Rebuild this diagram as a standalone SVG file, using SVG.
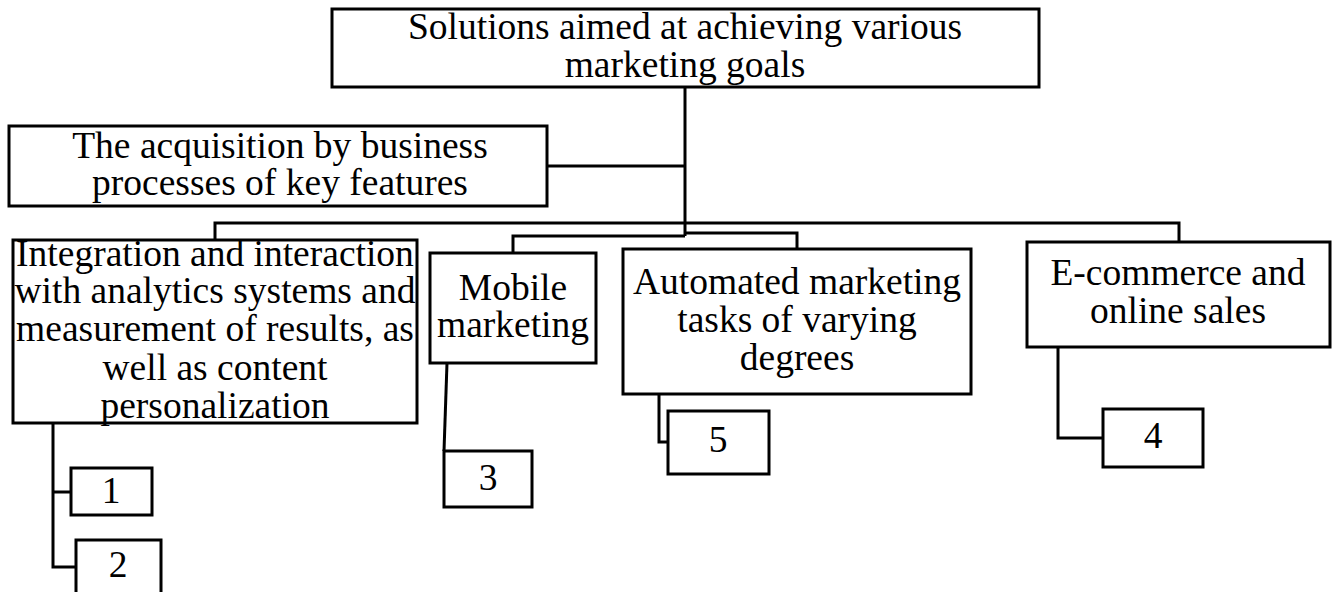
<svg xmlns="http://www.w3.org/2000/svg" width="1336" height="592" viewBox="0 0 1336 592">
<style>
.box{fill:#fff;stroke:#000;stroke-width:3}
.ln{fill:none;stroke:#000;stroke-width:3}
text{font-family:"Liberation Serif","Times New Roman",serif;font-size:37.5px;fill:#000;text-anchor:middle}
</style>
<rect width="1336" height="592" fill="#fff"/>
<g id="connectors">
<polyline class="ln" points="685,87 685,236"/>
<polyline class="ln" points="547,166 685,166"/>
<polyline class="ln" points="215,240 215,223 1179,223 1179,242"/>
<polyline class="ln" points="685,236 513,236 513,253"/>
<polyline class="ln" points="685,233 797,233 797,249"/>
<polyline class="ln" points="53,423 53,567 76,567"/>
<polyline class="ln" points="53,492 71,492"/>
<polyline class="ln" points="447,363 444,451"/>
<polyline class="ln" points="659,394 659,442 668,442"/>
<polyline class="ln" points="1058,347 1058,438 1103,438"/>
</g>
<g id="n-top"><rect class="box" x="332" y="9" width="707" height="78"/><text x="685" y="39">Solutions aimed at achieving various</text><text x="685" y="77">marketing goals</text></g>
<g id="n-acq"><rect class="box" x="9" y="126" width="538" height="80"/><text x="280" y="158">The acquisition by business</text><text x="280" y="195">processes of key features</text></g>
<g id="n-int"><rect class="box" x="13" y="240" width="404" height="183"/><text x="215" y="266">Integration and interaction</text><text x="215" y="303">with analytics systems and</text><text x="215" y="341">measurement of results, as</text><text x="215" y="380">well as content</text><text x="215" y="418">personalization</text></g>
<g id="n-mob"><rect class="box" x="430" y="253" width="166" height="110"/><text x="513" y="300">Mobile</text><text x="513" y="337">marketing</text></g>
<g id="n-auto"><rect class="box" x="623" y="249" width="348" height="145"/><text x="797" y="294">Automated marketing</text><text x="797" y="332">tasks of varying</text><text x="797" y="370">degrees</text></g>
<g id="n-ecom"><rect class="box" x="1027" y="242" width="303" height="105"/><text x="1178" y="285">E-commerce and</text><text x="1178" y="323">online sales</text></g>
<g id="n1"><rect class="box" x="71" y="468" width="81" height="47"/><text x="111" y="503">1</text></g>
<g id="n2"><rect class="box" x="76" y="540" width="85" height="60"/><text x="118" y="577">2</text></g>
<g id="n3"><rect class="box" x="444" y="451" width="88" height="56"/><text x="488" y="490">3</text></g>
<g id="n5"><rect class="box" x="668" y="411" width="101" height="63"/><text x="718" y="452">5</text></g>
<g id="n4"><rect class="box" x="1103" y="409" width="100" height="58"/><text x="1153" y="448">4</text></g>
</svg>
